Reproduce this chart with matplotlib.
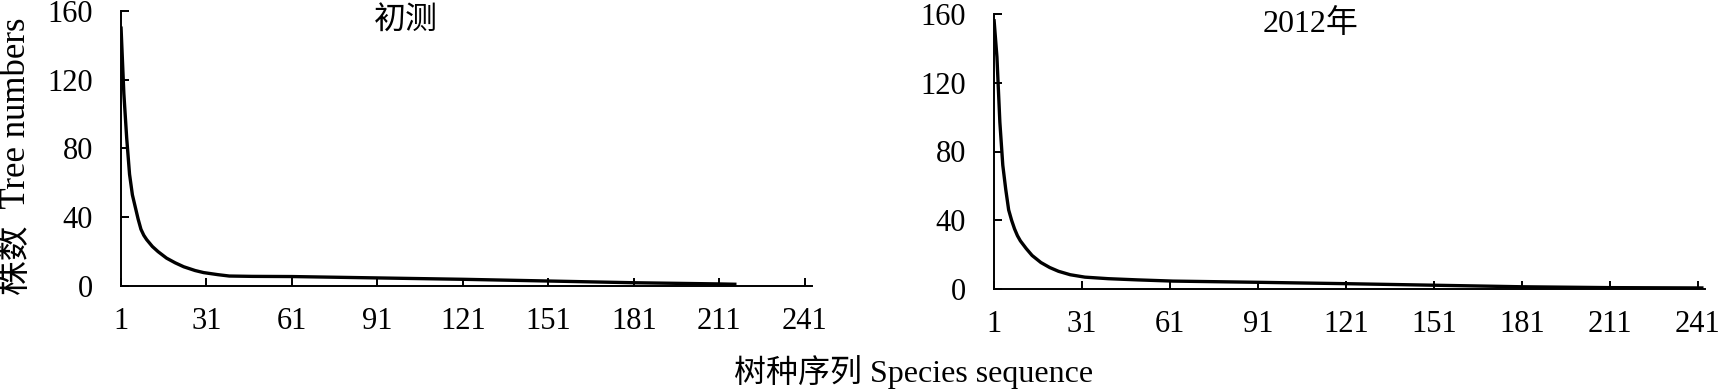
import matplotlib
matplotlib.use("Agg")
import matplotlib.pyplot as plt

# ---- data ----
initial_rank = [1, 2, 3, 4, 5, 6, 7, 8, 9, 10, 12, 14, 17, 20, 23, 27, 30, 35, 39, 47, 61, 91, 121, 151, 181, 211, 217]
initial_count = [151, 112, 86, 65, 53, 46, 39, 33, 29.5, 27, 23, 20, 16.2, 13.5, 11.2, 9, 7.8, 6.6, 5.8, 5.6, 5.5, 4.7, 3.9, 2.9, 1.9, 1.2, 1.0]

y2012_rank = [1, 2, 3, 4, 5, 6, 7, 8, 9, 10, 12, 14, 17, 20, 23, 27, 32, 40, 50, 62, 91, 121, 151, 181, 211, 243]
y2012_count = [157, 135, 97, 72, 58, 46, 40, 35, 31, 28, 23.5, 19.5, 15.4, 12.5, 10.3, 8.3, 6.9, 6.0, 5.3, 4.6, 3.9, 3.1, 2.2, 1.3, 0.8, 0.6]

xticks = [1, 31, 61, 91, 121, 151, 181, 211, 241]
yticks = [0, 40, 80, 120, 160]
titles = ["初测", "2012年"]
ylabel = "株数  Tree numbers"
xlabel = "树种序列 Species sequence"

FAM = ["Liberation Serif", "Noto Sans CJK SC"]
plt.rcParams["font.family"] = FAM

fig = plt.figure(figsize=(17.2, 3.9), dpi=100)
W, H = 1720, 390
rects = [
    (121 / W, 1 - 286 / H, (812 - 121) / W, 275 / H),
    (994 / W, 1 - 289 / H, (1705 - 994) / W, 275 / H),
]
series = [(initial_rank, initial_count), (y2012_rank, y2012_count)]
title_pos = [(406 / W, 1 - 22 / H), (1311 / W, 1 - 24 / H)]

for rect, (xs, ys), t, tp in zip(rects, series, titles, title_pos):
    ax = fig.add_axes(rect)
    ax.plot(xs, ys, color="black", lw=2.4, solid_capstyle="butt",
            solid_joinstyle="round")
    ax.set_xlim(1, 243.5)
    ax.set_ylim(0, 160)
    ax.set_xticks(xticks)
    ax.set_yticks(yticks)
    for s in ["top", "right"]:
        ax.spines[s].set_visible(False)
    for s in ["left", "bottom"]:
        ax.spines[s].set_linewidth(1.4)
        ax.spines[s].set_color("black")
    ax.tick_params(axis="both", direction="in", length=5.5, width=1.4,
                   labelsize=22, colors="black")
    ax.tick_params(axis="y", pad=20)
    ax.tick_params(axis="x", pad=15)
    ax.patch.set_alpha(0)
    fig.text(tp[0], tp[1], t, ha="center", va="center", fontsize=23,
             family=FAM)

fig.text(17 / W, 1 - 156 / H, ylabel, rotation=90, ha="center", va="center",
         fontsize=25, family=FAM)
fig.text(914 / W, 1 - 372 / H, xlabel, ha="center", va="center",
         fontsize=23, family=FAM)

fig.savefig("out.png", dpi=100, facecolor="white")
